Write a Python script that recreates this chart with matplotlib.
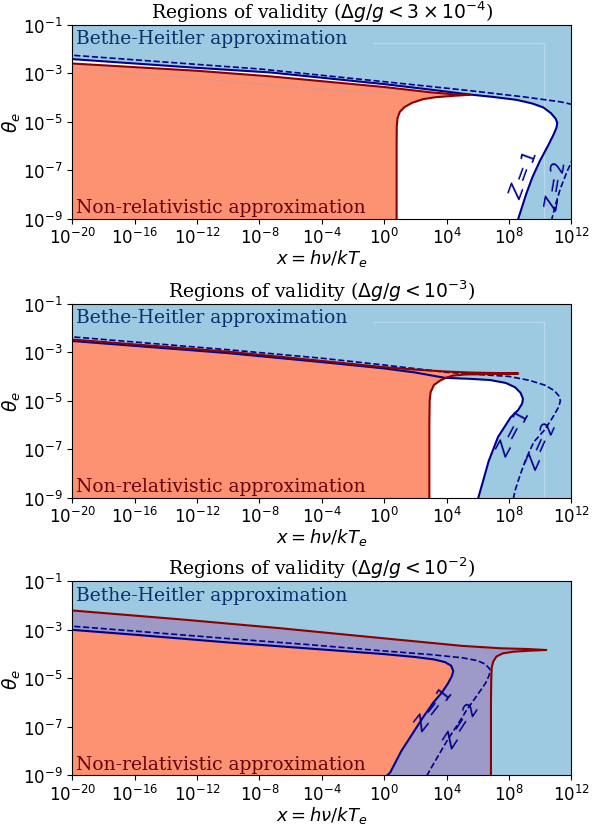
import matplotlib
matplotlib.use("Agg")
import matplotlib.pyplot as plt
import numpy as np

# contour points as log10(x), log10(theta_e)
# panel 1: dg/g < 3e-4
red1_lx = [0.80, 0.80, 0.81, 0.86, 1.0, 1.3, 1.8, 2.5, 3.3, 4.3, 5.5,
           4.5, 3.0, 0.0, -3.0, -7.3, -12.0, -16.0, -20.0, -21.0]
red1_lt = [-9.2, -6.0, -5.2, -4.85, -4.6, -4.4, -4.22, -4.07, -3.99, -3.94, -3.89,
           -3.87, -3.79, -3.57, -3.39, -3.13, -2.9, -2.75, -2.6, -2.55]
z1a_lx = [-21.0, -20.0, -12.0, -7.3, 0.0, 3.0, 5.5, 7.0, 8.5, 9.5, 10.2, 10.7, 11.0,
          11.1, 11.05, 10.85, 10.5, 10.0, 9.5, 9.1, 8.8, 8.6, 8.55]
z1a_lt = [-2.36, -2.42, -2.78, -2.97, -3.45, -3.68, -3.88, -3.98, -4.1, -4.25, -4.41,
          -4.65, -4.88, -5.05, -5.25, -5.55, -6.0, -6.6, -7.3, -8.0, -8.6, -9.0, -9.2]
z2a_lx = [-21.0, -20.0, -7.9, 0.0, 5.5, 9.0, 11.3, 12.0, 12.6, 13.0, 13.1, 12.8,
          12.05, 11.7, 11.3, 11.0, 10.76, 10.7]
z2a_lt = [-2.21, -2.26, -2.83, -3.35, -3.72, -3.98, -4.18, -4.28, -4.5, -5.0, -5.5,
          -6.2, -6.6, -7.1, -7.76, -8.4, -9.0, -9.2]

# panel 2: dg/g < 1e-3
red2_lx = [2.9, 2.9, 2.92, 2.98, 3.2, 3.6, 3.95, 4.4, 5.2, 7.0, 8.6,
           7.0, 5.5, 4.0, 2.0, 0.0, -4.0, -10.0, -20.0, -21.0]
red2_lt = [-9.2, -6.0, -5.0, -4.65, -4.35, -4.17, -4.06, -3.97, -3.92, -3.9, -3.88,
           -3.86, -3.84, -3.8, -3.72, -3.62, -3.36, -2.98, -2.48, -2.43]
z1b_lx = [-21.0, -20.0, -10.0, -4.0, 0.0, 2.0, 3.9, 5.5, 6.8, 7.8, 8.4, 8.75, 8.9,
          8.85, 8.6, 8.1, 7.3, 6.7, 6.35, 6.04, 6.0]
z1b_lt = [-2.49, -2.54, -3.04, -3.41, -3.67, -3.84, -4.06, -4.1, -4.15, -4.27, -4.45,
          -4.68, -4.92, -5.12, -5.38, -5.7, -6.5, -7.5, -8.3, -9.0, -9.2]
z2b_lx = [-21.0, -20.0, -10.0, -4.0, 0.0, 4.0, 6.0, 8.0, 9.3, 10.3, 10.9, 11.2, 11.3, 11.2,
          10.8, 10.3, 9.6, 9.1, 8.7, 8.4, 8.3, 8.25]
z2b_lt = [-2.32, -2.37, -2.9, -3.25, -3.53, -3.83, -3.92, -4.0, -4.16, -4.36, -4.58,
          -4.8, -5.0, -5.25, -5.7, -6.2, -6.7, -7.4, -8.1, -8.7, -9.0, -9.2]

# panel 3: dg/g < 1e-2
red3_lx = [6.85, 6.85, 6.87, 6.9, 7.0, 7.2, 7.6, 8.3, 9.3, 10.4,
           9.2, 7.5, 5.0, 0.0, -6.7, -13.0, -20.0, -21.0]
red3_lt = [-9.2, -6.0, -5.0, -4.55, -4.3, -4.1, -3.97, -3.9, -3.86, -3.83,
           -3.79, -3.76, -3.66, -3.35, -2.93, -2.57, -2.2, -2.14]
z1c_lx = [-21.0, -20.0, -16.0, -10.0, -5.0, 0.0, 2.0, 3.2, 3.9, 4.3, 4.43, 4.35, 4.1,
          3.71, 3.15, 2.5, 1.87, 1.1, 0.39, 0.2, 0.1]
z1c_lt = [-2.95, -3.0, -3.2, -3.52, -3.76, -4.0, -4.12, -4.22, -4.33, -4.48, -4.7,
          -4.9, -5.2, -5.58, -6.0, -6.6, -7.23, -8.0, -8.88, -9.0, -9.2]
z2c_lx = [-21.0, -20.0, -16.0, -10.0, -5.0, 0.0, 3.0, 5.0, 6.0, 6.5, 6.78, 6.75, 6.5,
          5.95, 5.3, 4.67, 4.1, 3.6, 3.1, 2.75, 2.65]
z2c_lt = [-2.8, -2.85, -3.05, -3.36, -3.6, -3.87, -4.02, -4.15, -4.27, -4.42, -4.62,
          -4.85, -5.2, -5.71, -6.3, -6.95, -7.5, -8.05, -8.6, -9.0, -9.2]

titles = [r"Regions of validity ($\Delta g/g < 3\times10^{-4}$)",
          r"Regions of validity ($\Delta g/g < 10^{-3}$)",
          r"Regions of validity ($\Delta g/g < 10^{-2}$)"]
# label positions (log10 x, log10 theta, rotation)
z1_lab = [(8.95, -7.15, 70), (8.25, -6.3, 62), (3.15, -6.25, 52)]
z2_lab = [(11.0, -7.6, 80), (10.05, -6.85, 66), (4.95, -6.9, 57)]

blue = "#9ecae1"
salmon = "#fc9272"
purple = "#9e9ac8"
lred = "#8b0000"
lblue = "#00008b"
fs = 13.5


def region(lx, lt):
    # area left of / below a contour that runs from the left edge to the bottom edge
    px = list(lx) + [lx[-1], -23.0, -23.0]
    pt = list(lt) + [-10.5, -10.5, lt[0]]
    return 10.0**np.array(px), 10.0**np.array(pt)


def curve(lx, lt):
    return 10.0**np.array(lx), 10.0**np.array(lt)


fig = plt.figure(figsize=(5.92, 8.29), dpi=100)
bottoms = [0.735, 0.3985, 0.0635]
panels = [(red1_lx, red1_lt, z1a_lx, z1a_lt, z2a_lx, z2a_lt),
          (red2_lx, red2_lt, z1b_lx, z1b_lt, z2b_lx, z2b_lt),
          (red3_lx, red3_lt, z1c_lx, z1c_lt, z2c_lx, z2c_lt)]

for i, (rx, rt, ax1, at1, ax2, at2) in enumerate(panels):
    ax = fig.add_axes([0.122, bottoms[i], 0.843, 0.234])
    ax.set_xscale("log")
    ax.set_yscale("log")
    ax.set_facecolor(blue)

    if i < 2:
        # faint edge lines seen in the blue area
        ax.plot([10**-0.7, 10**10.27, 10**10.27], [10**-1.75, 10**-1.75, 1e-10],
                color="#b8d8ec", lw=0.9, zorder=1)
        ax.fill(*region(ax1, at1), color="white", lw=0, zorder=2)
        ax.fill(*region(rx, rt), color=salmon, lw=0, zorder=3)
    else:
        ax.fill(*region(rx, rt), color=purple, lw=0, zorder=2)
        ax.fill(*region(ax1, at1), color=salmon, lw=0, zorder=3)

    if i == 0:
        ax.plot(*curve([-20, -14, -8, -2.6, 1.0], [-2.78, -3.1, -3.45, -3.72, -3.86]),
                ls=":", color="#a898c0", lw=1.0, alpha=0.7, zorder=4)

    ax.plot(*curve(ax2, at2), color=lblue, lw=1.2, ls="--", zorder=5)
    ax.plot(*curve(ax1, at1), color=lblue, lw=1.5, zorder=5)
    ax.plot(*curve(rx, rt), color=lred, lw=1.5, zorder=6)

    for (lx, lt, rot), lab in ((z1_lab[i], "$Z=1$"), (z2_lab[i], "$Z=2$")):
        ax.text(10**lx, 10**lt, lab, color=lblue, fontsize=14, rotation=rot,
                ha="center", va="center", zorder=7)

    ax.text(0.008, 0.978, "Bethe-Heitler approximation", transform=ax.transAxes,
            family="DejaVu Serif", fontsize=fs, color="#08306b", va="top", zorder=8)
    ax.text(0.008, 0.035, "Non-relativistic approximation", transform=ax.transAxes,
            family="DejaVu Serif", fontsize=fs, color="#67000d", va="baseline", zorder=8)

    ax.set_xlim(1e-20, 1e12)
    ax.set_ylim(1e-9, 1e-1)
    ax.set_xticks([10.0**k for k in range(-20, 13, 4)])
    ax.set_yticks([10.0**k for k in range(-9, 0, 2)])
    ax.minorticks_off()
    ax.tick_params(labelsize=12)
    ax.tick_params(axis="x", pad=2.5)
    ax.set_title(titles[i], family="DejaVu Serif", fontsize=fs, pad=5)
    ax.set_xlabel(r"$x = h\nu/kT_e$", fontsize=13, labelpad=0)
    ax.set_ylabel(r"$\theta_e$", fontsize=fs, labelpad=0)
    for s in ax.spines.values():
        s.set_zorder(10)

fig.savefig("out.png", dpi=100)
